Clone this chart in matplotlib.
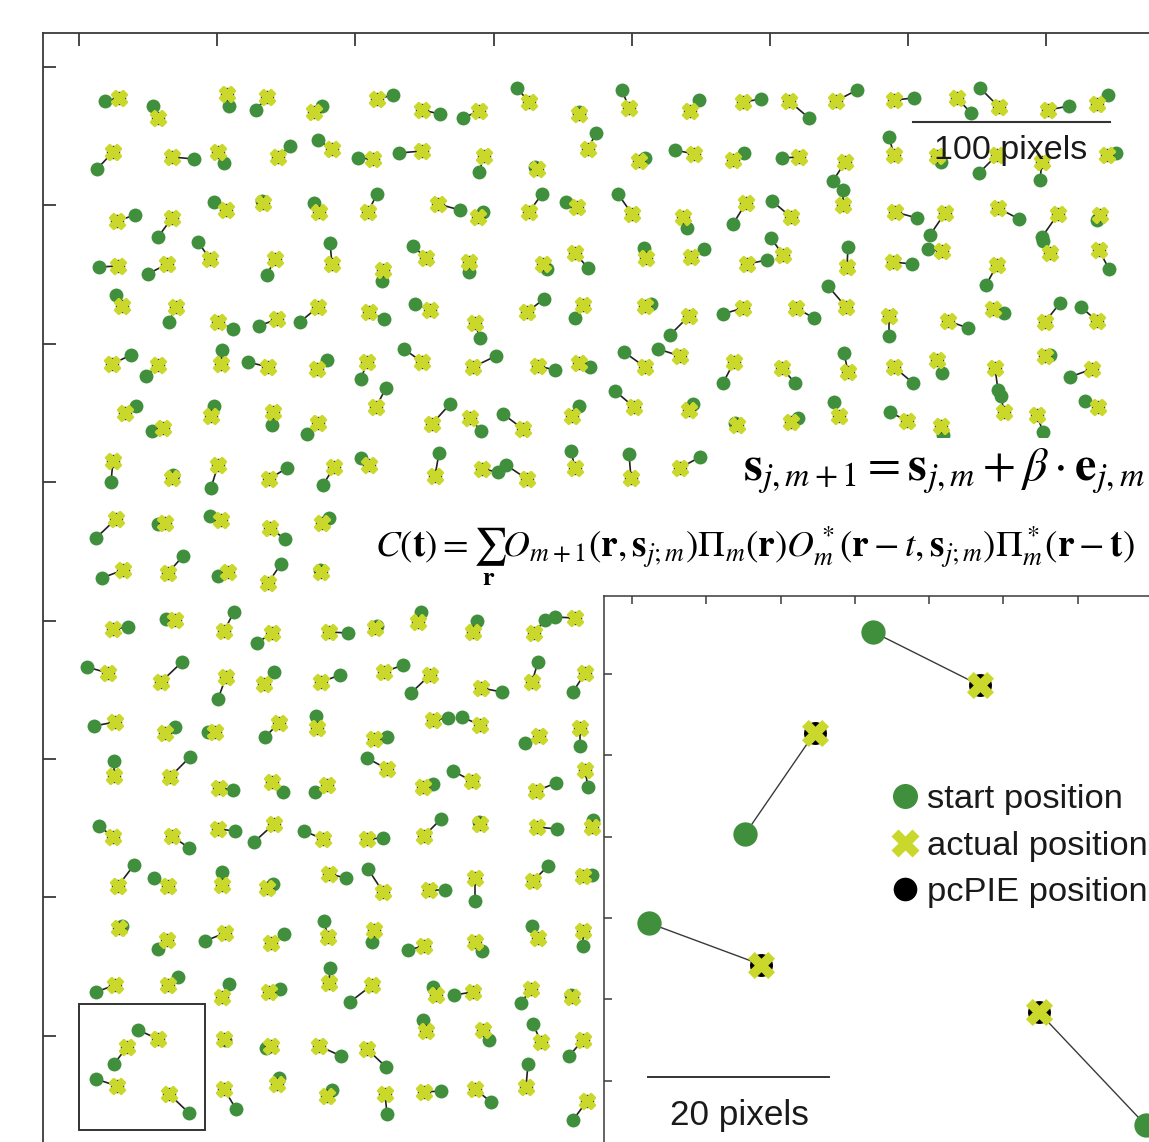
import numpy as np
import matplotlib
matplotlib.use("Agg")
import matplotlib.pyplot as plt
from matplotlib.lines import Line2D
from matplotlib.patches import Rectangle
from matplotlib.collections import LineCollection

plt.rcParams['font.family'] = ['Liberation Sans', 'DejaVu Sans']
plt.rcParams['mathtext.fontset'] = 'stix'

# probe positions (scan pixels), one row of the scan per line
start_x = [105, 153, 229, 256, 322, 393, 440, 463, 517, 579, 622, 699, 761, 809, 857, 914, 971, 980, 1069, 1108,
           97, 194, 224, 290, 318, 358, 399, 479, 535, 596, 645, 675, 744, 782, 833, 843, 889, 941, 979, 1040, 1116,
           135, 158, 214, 262, 314, 377, 460, 483, 542, 566, 618, 687, 733, 772, 917, 930, 1019, 1042, 1097,
           99, 148, 198, 267, 330, 382, 413, 469, 547, 588, 644, 704, 767, 771, 848, 912, 928, 986, 1043, 1109,
           116, 169, 233, 259, 300, 384, 415, 480, 544, 575, 651, 670, 723, 814, 828, 889, 968, 1004, 1060, 1081,
           131, 146, 222, 248, 327, 361, 404, 496, 555, 590, 624, 658, 723, 795, 844, 913, 942, 998, 1050, 1070,
           136, 152, 214, 272, 307, 386, 450, 481, 503, 579, 615, 693, 735, 798, 834, 890, 943, 1001, 1043, 1085,
           111, 173, 211, 287, 323, 361, 439, 498, 506, 571, 629, 700,
           96, 158, 210, 285, 329, 102, 183, 218, 281, 320,
           128, 166, 234, 257, 348, 377, 421, 477, 545, 555,
           87, 182, 218, 274, 340, 403, 411, 502, 538, 573,
           94, 175, 208, 265, 316, 387, 448, 462, 525, 580,
           114, 190, 233, 283, 315, 367, 433, 453, 556, 588,
           99, 189, 235, 254, 304, 383, 441, 479, 557, 593,
           134, 154, 222, 273, 346, 368, 445, 475, 548, 592,
           122, 158, 205, 284, 324, 372, 408, 482, 532, 583,
           96, 178, 229, 280, 330, 350, 433, 454, 521, 571,
           138, 114, 96, 189, 225, 266, 341, 386, 423, 489, 533, 569,
           236, 279, 332, 387, 441, 491, 528, 573]
start_y = [101, 106, 106, 110, 106, 95, 114, 118, 88, 112, 90, 100, 99, 118, 90, 98, 113, 88, 106, 95,
           169, 159, 163, 146, 140, 158, 153, 172, 167, 133, 158, 150, 153, 158, 181, 190, 137, 162, 173, 180, 153,
           215, 237, 202, 201, 203, 194, 210, 212, 194, 202, 194, 228, 224, 201, 218, 235, 219, 237, 220,
           267, 274, 242, 275, 243, 281, 246, 272, 269, 268, 248, 249, 260, 238, 247, 264, 249, 285, 241, 269,
           295, 322, 329, 326, 322, 319, 304, 338, 299, 318, 304, 335, 314, 318, 286, 336, 328, 313, 303, 307,
           355, 376, 350, 362, 360, 379, 349, 356, 370, 367, 352, 349, 383, 383, 353, 383, 373, 390, 355, 377,
           406, 431, 406, 425, 434, 388, 404, 431, 414, 406, 391, 404, 423, 418, 402, 412, 435, 396, 432, 401,
           482, 475, 488, 468, 485, 458, 453, 472, 465, 451, 454, 457,
           538, 524, 516, 539, 518, 578, 556, 576, 564, 570,
           627, 619, 612, 643, 633, 626, 612, 621, 620, 617,
           667, 662, 699, 672, 675, 665, 693, 692, 662, 692,
           726, 727, 732, 737, 716, 737, 718, 717, 743, 746,
           761, 757, 790, 792, 792, 758, 784, 771, 783, 787,
           826, 848, 831, 842, 831, 838, 819, 822, 829, 820,
           865, 878, 872, 884, 878, 869, 890, 901, 866, 875,
           926, 949, 941, 934, 921, 942, 950, 951, 926, 946,
           992, 977, 984, 989, 968, 1002, 987, 995, 1003, 995,
           1030, 1064, 1079, 1113, 1040, 1048, 1056, 1067, 1020, 1040, 1024, 1056,
           1109, 1078, 1090, 1114, 1091, 1102, 1064, 1120]
actual_x = [119, 158, 227, 267, 314, 377, 422, 479, 529, 579, 629, 690, 743, 789, 836, 894, 957, 999, 1048, 1097,
            113, 172, 218, 278, 332, 373, 422, 484, 537, 588, 639, 694, 733, 799, 845, 843, 894, 937, 997, 1042, 1107,
            117, 172, 226, 263, 319, 368, 438, 478, 529, 577, 632, 683, 746, 791, 895, 945, 998, 1058, 1100,
            118, 167, 210, 275, 332, 383, 426, 469, 543, 575, 646, 691, 747, 783, 847, 893, 942, 997, 1050, 1099,
            122, 176, 218, 277, 318, 369, 430, 475, 527, 583, 645, 689, 743, 796, 846, 889, 948, 993, 1045, 1097,
            112, 158, 221, 268, 317, 367, 422, 473, 538, 579, 645, 680, 734, 782, 848, 894, 937, 995, 1045, 1092,
            125, 163, 211, 273, 318, 376, 432, 470, 523, 572, 634, 689, 737, 791, 839, 907, 941, 1004, 1037, 1098,
            113, 172, 218, 269, 334, 369, 435, 482, 527, 575, 631, 680,
            116, 165, 221, 270, 322, 123, 168, 228, 268, 321,
            113, 175, 224, 272, 329, 375, 418, 473, 534, 575,
            108, 161, 226, 264, 321, 384, 430, 481, 532, 585,
            115, 165, 215, 279, 317, 374, 433, 480, 539, 580,
            114, 170, 219, 272, 327, 387, 423, 472, 536, 585,
            113, 172, 218, 274, 323, 367, 424, 480, 537, 592,
            118, 168, 222, 267, 329, 383, 429, 475, 533, 583,
            119, 167, 225, 271, 328, 374, 424, 475, 538, 583,
            115, 168, 222, 269, 329, 372, 436, 473, 531, 572,
            158, 127, 117, 169, 224, 271, 319, 367, 426, 483, 541, 583,
            224, 277, 327, 385, 424, 475, 526, 587]
actual_y = [98, 118, 94, 97, 112, 99, 110, 111, 102, 114, 108, 111, 102, 101, 101, 100, 98, 107, 110, 104,
            152, 157, 152, 157, 149, 159, 151, 156, 169, 149, 161, 154, 160, 157, 162, 205, 155, 156, 155, 162, 155,
            221, 218, 210, 203, 212, 212, 204, 217, 212, 207, 214, 217, 203, 217, 212, 213, 208, 214, 215,
            266, 264, 259, 259, 264, 270, 258, 262, 264, 253, 258, 257, 264, 255, 267, 262, 251, 265, 253, 250,
            306, 307, 322, 319, 307, 312, 310, 323, 312, 305, 306, 316, 308, 308, 307, 316, 321, 309, 322, 321,
            364, 365, 364, 367, 369, 362, 362, 367, 366, 363, 367, 356, 362, 368, 372, 367, 360, 368, 356, 369,
            413, 428, 416, 412, 423, 407, 424, 418, 429, 416, 407, 410, 425, 422, 416, 421, 426, 412, 415, 407,
            461, 478, 465, 479, 467, 465, 476, 469, 479, 468, 478, 468,
            519, 523, 520, 528, 523, 570, 573, 572, 583, 572,
            629, 620, 631, 633, 632, 628, 622, 632, 633, 618,
            673, 682, 677, 684, 682, 672, 675, 688, 682, 673,
            722, 733, 732, 723, 728, 739, 720, 725, 736, 728,
            776, 777, 788, 782, 785, 769, 787, 781, 791, 770,
            837, 836, 829, 824, 839, 839, 836, 824, 827, 827,
            886, 886, 885, 888, 874, 892, 890, 878, 881, 876,
            928, 940, 933, 943, 937, 930, 946, 942, 938, 931,
            985, 985, 997, 992, 983, 985, 995, 992, 989, 997,
            1039, 1047, 1086, 1094, 1039, 1046, 1046, 1049, 1031, 1030, 1042, 1040,
            1089, 1084, 1096, 1094, 1092, 1089, 1087, 1101]
# the pcPIE estimates sit on top of the actual positions at this scale
pcpie_x = actual_x
pcpie_y = actual_y

legend_labels = ['start position', 'actual position', 'pcPIE position']

GREEN = '#3f8f3c'
YELLOW = '#c9d82b'

W, H = 1149, 1142
fig = plt.figure(figsize=(W / 100, H / 100), dpi=100)


def fbox(x0, y0, x1, y1):
    return [x0 / W, 1 - y1 / H, (x1 - x0) / W, (y1 - y0) / H]


def draw_pairs(ax, ms_start, ms_pc, ms_act, lw, lcolor, xedge):
    segs = [[(sx, sy), (ax_, ay)] for sx, sy, ax_, ay in zip(start_x, start_y, actual_x, actual_y)]
    ax.add_collection(LineCollection(segs, colors=lcolor, linewidths=lw, zorder=1))
    ax.scatter(start_x, start_y, s=ms_start ** 2, c=GREEN, linewidths=0, zorder=2)
    ax.scatter(pcpie_x, pcpie_y, s=ms_pc ** 2, c='black', linewidths=0, zorder=3)
    ax.scatter(actual_x, actual_y, s=ms_act ** 2, c=YELLOW, marker='X',
               edgecolors=YELLOW, linewidths=xedge, zorder=4)


def style_frame(ax, lw, tlen):
    for side in ['top', 'left', 'right', 'bottom']:
        ax.spines[side].set_color('#3a3a3a')
        ax.spines[side].set_linewidth(lw)
    ax.tick_params(direction='in', length=tlen, width=lw, color='#3a3a3a',
                   top=True, bottom=False, left=True, right=False,
                   labelleft=False, labelbottom=False, labeltop=False)


# main scan
ax = fig.add_axes(fbox(43, 33, 1160, 1155))
draw_pairs(ax, 10, 9.6, 10.5, 1.2, '#222222', 2.0)
ax.set_xlim(43, 1160)
ax.set_ylim(1155, 33)
ax.set_xticks(np.arange(79, 1160, 138.2))
ax.set_yticks(np.arange(67, 1155, 138.4))
style_frame(ax, 1.3, 9)
ax.add_patch(Rectangle((79, 1004), 126, 126, fill=False, ec='#333333', lw=1.4, zorder=5))

# main scale bar
fig.add_artist(Line2D([913 / W, 1110 / W], [1 - 122 / H, 1 - 122 / H], color='#333333', lw=1.5, zorder=3))
fig.text(1011 / W, 1 - 159 / H, '100 pixels', fontsize=24.5, ha='center', va='baseline', color='#1a1a1a', zorder=4)

# white panels behind the equations
fig.add_artist(Rectangle((728 / W, 1 - 500 / H), (W - 728) / W, 62 / H, transform=fig.transFigure,
                         fc='white', ec='none', zorder=1))
fig.add_artist(Rectangle((358 / W, 1 - 596 / H), (W - 358) / W, 96 / H, transform=fig.transFigure,
                         fc='white', ec='none', zorder=1))

renderer = fig.canvas.get_renderer()


def fit_width(t, target):
    w = t.get_window_extent(renderer).width
    t.set_fontsize(t.get_fontsize() * target / w)


eq1 = fig.text(743 / W, 1 - 481 / H,
               r'$\mathbf{s}_{j,m+1} = \mathbf{s}_{j,m} + \beta\cdot\mathbf{e}_{j,m}$',
               fontsize=30, va='baseline', ha='left', zorder=4)
fit_width(eq1, 402)
eq2 = fig.text(375 / W, 1 - 556 / H,
               r'$C(\mathbf{t}) = \sum_{\mathbf{r}} O_{m+1}(\mathbf{r},\mathbf{s}_{j;m})\Pi_m(\mathbf{r})'
               r'O^*_m(\mathbf{r}-t,\mathbf{s}_{j;m})\Pi^*_m(\mathbf{r}-\mathbf{t})$',
               fontsize=26, va='baseline', ha='left', zorder=4)
fit_width(eq2, 760)

# zoomed inset of the boxed area
axi = fig.add_axes(fbox(604, 596, 1160, 1150), zorder=2)
axi.set_facecolor('white')
draw_pairs(axi, 17.5, 16.5, 19.5, 1.0, '#3a3a3a', 0)
axi.set_xlim(87.57, 191.69)
axi.set_ylim(1117.2, 1023.94)
axi.set_xticks(np.arange(92.82, 192, 13.91))
axi.set_yticks(np.arange(1037.07, 1117, 13.69))
style_frame(axi, 1.1, 6)

fig.add_artist(Line2D([648 / W, 829 / W], [1 - 1077 / H, 1 - 1077 / H], color='#333333', lw=1.4, zorder=5))
fig.text(739 / W, 1 - 1124.5 / H, '20 pixels', fontsize=25.3, ha='center', va='baseline', color='#1a1a1a', zorder=5)

handles = [Line2D([], [], ls='none', marker='o', ms=18, color=GREEN, mec='none'),
           Line2D([], [], ls='none', marker='X', ms=19.5, color=YELLOW, mec='none'),
           Line2D([], [], ls='none', marker='o', ms=17, color='black', mec='none')]
leg = axi.legend(handles, legend_labels, loc='upper left', bbox_to_anchor=(893 / W, 1 - 784 / H),
                 bbox_transform=fig.transFigure, frameon=False, fontsize=24.8,
                 handlelength=0.7, handletextpad=0.28, labelspacing=0.45,
                 borderpad=0, borderaxespad=0)
for t in leg.get_texts():
    t.set_color('#1a1a1a')

fig.savefig('out.png', dpi=100)
